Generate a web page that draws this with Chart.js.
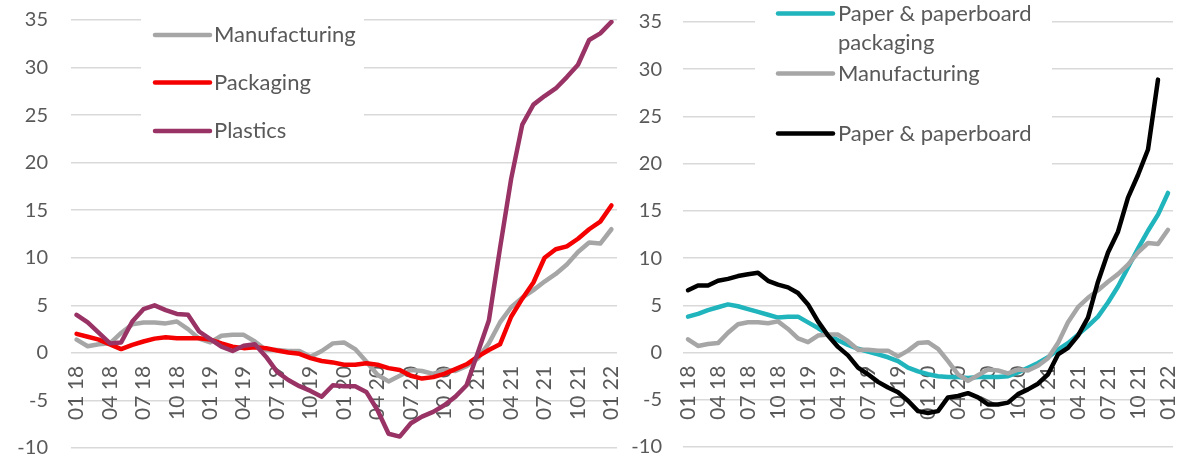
<!DOCTYPE html>
<html>
<head>
<meta charset="utf-8">
<script src="https://cdn.jsdelivr.net/npm/chart.js@4.4.1/dist/chart.umd.min.js"></script>
<style>
  html, body { margin: 0; padding: 0; background: #ffffff; width: 1189px; height: 457px; overflow: hidden; }
  canvas { position: absolute; top: 0; }
  #c1 { left: 0; }
  #c2 { left: 620px; }
</style>
</head>
<body>
<canvas id="c1" width="620" height="462"></canvas>
<canvas id="c2" width="569" height="462"></canvas>
<script>
// Monthly categories, January 2018 to January 2022
const months = [
  '01 18','02 18','03 18','04 18','05 18','06 18','07 18','08 18','09 18','10 18','11 18','12 18',
  '01 19','02 19','03 19','04 19','05 19','06 19','07 19','08 19','09 19','10 19','11 19','12 19',
  '01 20','02 20','03 20','04 20','05 20','06 20','07 20','08 20','09 20','10 20','11 20','12 20',
  '01 21','02 21','03 21','04 21','05 21','06 21','07 21','08 21','09 21','10 21','11 21','12 21',
  '01 22'
];

// Quarterly labels shown on the category axis
const tickLabels = [
  '01 18','04 18','07 18','10 18','01 19','04 19','07 19','10 19',
  '01 20','04 20','07 20','10 20','01 21','04 21','07 21','10 21','01 22'
];

// Value axis range
const yMin = -10;
const yMax = 35;
const yStep = 5;

// Price change series (%, year on year)
const manufacturing = [
  1.4, 0.7, 0.9, 1.0, 2.1, 3.0, 3.2, 3.2, 3.1, 3.3, 2.5, 1.5,
  1.1, 1.8, 1.9, 1.9, 1.2, 0.3, 0.3, 0.2, 0.2, -0.4, 0.2, 1.0,
  1.1, 0.4, -0.9, -2.3, -3.0, -2.4, -1.8, -1.9, -2.2, -1.8, -1.9, -1.4,
  -0.6, 1.0, 3.2, 4.8, 5.8, 6.6, 7.5, 8.3, 9.3, 10.6, 11.6, 11.5,
  13.0
];
const packaging = [
  2.0, 1.7, 1.4, 0.9, 0.4, 0.85, 1.2, 1.5, 1.65, 1.55, 1.55, 1.55,
  1.4, 1.0, 0.65, 0.5, 0.6, 0.5, 0.25, 0.05, -0.1, -0.55, -0.85, -1.0,
  -1.25, -1.25, -1.1, -1.25, -1.6, -1.8, -2.4, -2.7, -2.55, -2.2, -1.7, -1.2,
  -0.4, 0.3, 0.9, 3.8, 5.7, 7.4, 10.0, 10.9, 11.2, 12.0, 13.0, 13.8,
  15.5
];
const plastics = [
  4.0, 3.2, 2.1, 1.0, 1.1, 3.3, 4.6, 5.0, 4.5, 4.1, 4.0, 2.25,
  1.45, 0.65, 0.2, 0.75, 0.9, -0.4, -2.0, -2.85, -3.5, -4.0, -4.6, -3.4,
  -3.5, -3.5, -4.1, -6.0, -8.5, -8.8, -7.4, -6.7, -6.2, -5.5, -4.6, -3.4,
  0.0, 3.4, 11.0, 18.3, 24.0, 26.1, 27.0, 27.8, 29.0, 30.3, 32.9, 33.6,
  34.8
];
const paperPackaging = [
  3.8, 4.1, 4.5, 4.8, 5.1, 4.9, 4.6, 4.3, 4.0, 3.7, 3.8, 3.8,
  3.2, 2.6, 1.9, 1.3, 0.8, 0.4, 0.1, -0.2, -0.5, -0.9, -1.6, -2.0,
  -2.3, -2.5, -2.6, -2.6, -2.7, -2.6, -2.6, -2.6, -2.5, -2.1, -1.6, -1.1,
  -0.5, 0.3, 1.0, 1.9, 2.8, 3.8, 5.3, 7.0, 9.0, 11.0, 12.9, 14.6,
  16.9
];
const paperboard = [
  6.6, 7.1, 7.1, 7.6, 7.8, 8.1, 8.3, 8.45, 7.6, 7.2, 6.9, 6.3,
  5.1, 3.3, 1.8, 0.6, -0.3, -1.6, -2.3, -3.1, -3.7, -4.2, -5.1, -6.2,
  -6.4, -6.2, -4.75, -4.6, -4.3, -4.75, -5.5, -5.5, -5.3, -4.4, -3.9, -3.3,
  -2.3, -0.2, 0.5, 1.8, 3.7, 7.5, 10.6, 12.8, 16.4, 18.8, 21.5, 28.9,
  null
];

const FONT = 'Lato, "Open Sans", sans-serif';
const TEXT = '#595959';
const GRID = '#d9d9d9';

// Legend drawn inside the plot area on a white panel
const insetLegend = {
  id: 'insetLegend',
  beforeDatasetsDraw(chart, args, opts) {
    const ctx = chart.ctx;
    ctx.save();
    ctx.fillStyle = '#ffffff';
    ctx.fillRect(opts.box.x, opts.box.y, opts.box.w, opts.box.h);
    ctx.font = opts.fontSize + 'px ' + FONT;
    ctx.textBaseline = 'middle';
    ctx.textAlign = 'left';
    opts.entries.forEach((entry, k) => {
      const ds = chart.data.datasets[entry.dataset];
      const y = opts.rows[k];
      ctx.strokeStyle = ds.borderColor;
      ctx.lineWidth = ds.borderWidth;
      ctx.lineCap = 'round';
      ctx.beginPath();
      ctx.moveTo(opts.lineX1, y);
      ctx.lineTo(opts.lineX2, y);
      ctx.stroke();
      // wrap the label to the panel width
      const words = ds.label.split(' ');
      const lines = [];
      let cur = '';
      words.forEach(w => {
        const test = cur ? cur + ' ' + w : w;
        if (cur && ctx.measureText(test).width > opts.maxTextWidth) {
          lines.push(cur);
          cur = w;
        } else {
          cur = test;
        }
      });
      lines.push(cur);
      ctx.fillStyle = TEXT;
      lines.forEach((line, j) => {
        ctx.fillText(line, opts.textX, y + j * opts.lineHeight);
      });
    });
    ctx.restore();
  }
};

function lineDataset(label, data, color, order) {
  return {
    label: label,
    data: data,
    borderColor: color,
    backgroundColor: color,
    borderWidth: 4.5,
    pointRadius: 0,
    pointHoverRadius: 0,
    tension: 0,
    borderJoinStyle: 'round',
    borderCapStyle: 'round',
    spanGaps: false,
    order: order
  };
}

// the plot box is set by layout.padding alone; label overhang is ignored
function noOverhang(s) {
  s.paddingTop = 0;
  s.paddingBottom = 0;
  s.paddingLeft = 0;
  s.paddingRight = 0;
}

function makeChart(canvasId, datasets, yWidth, yPad, padding, legendOpts) {
  return new Chart(document.getElementById(canvasId), {
    type: 'line',
    data: { labels: months, datasets: datasets },
    plugins: [insetLegend],
    options: {
      responsive: false,
      animation: false,
      events: [],
      layout: { padding: padding },
      plugins: {
        legend: { display: false },
        tooltip: { enabled: false },
        insetLegend: legendOpts
      },
      scales: {
        x: {
          type: 'category',
          offset: true,
          position: { y: 0 },
          grid: { display: false, drawTicks: false },
          border: { display: false },
          ticks: {
            autoSkip: false,
            minRotation: 90,
            maxRotation: 90,
            padding: 13,
            color: TEXT,
            font: { family: FONT, size: 21 },
            callback: function (value, index) {
              const lab = this.getLabelForValue(value);
              return tickLabels.includes(lab) ? lab : '';
            }
          },
          afterFit: s => { s.height = 0; noOverhang(s); }
        },
        y: {
          min: yMin,
          max: yMax,
          grid: { color: GRID, lineWidth: 1.5, drawTicks: false },
          border: { display: false },
          ticks: {
            stepSize: yStep,
            padding: yPad,
            color: TEXT,
            font: { family: FONT, size: 20 }
          },
          afterFit: s => { s.width = yWidth; noOverhang(s); }
        }
      }
    }
  });
}

function draw() {
  makeChart('c1', [
    lineDataset('Manufacturing', manufacturing, '#a6a6a6', 3),
    lineDataset('Packaging', packaging, '#f50000', 2),
    lineDataset('Plastics', plastics, '#993366', 1)
  ], 71, 23, { top: 20, bottom: 14, left: 0, right: 3 }, {
    box: { x: 141, y: 0, w: 223, h: 150 },
    entries: [{ dataset: 0 }, { dataset: 1 }, { dataset: 2 }],
    rows: [35, 82.5, 131],
    lineX1: 155, lineX2: 210, textX: 214,
    maxTextWidth: 215, lineHeight: 29, fontSize: 22
  });

  makeChart('c2', [
    lineDataset('Paper & paperboard packaging', paperPackaging, '#20b4bc', 3),
    lineDataset('Manufacturing', manufacturing, '#a6a6a6', 2),
    lineDataset('Paper & paperboard', paperboard, '#000000', 1)
  ], 63, 21, { top: 22, bottom: 15, left: 0, right: 16 }, {
    box: { x: 135, y: 0, w: 297, h: 175 },
    entries: [{ dataset: 0 }, { dataset: 1 }, { dataset: 2 }],
    rows: [13.5, 73.5, 133.5],
    lineX1: 158, lineX2: 213, textX: 218,
    maxTextWidth: 212, lineHeight: 29, fontSize: 22
  });
}

if (document.fonts && document.fonts.load) {
  Promise.all([
    document.fonts.load('20px Lato'),
    document.fonts.load('22px Lato')
  ]).then(draw, draw);
} else {
  draw();
}
</script>
</body>
</html>
